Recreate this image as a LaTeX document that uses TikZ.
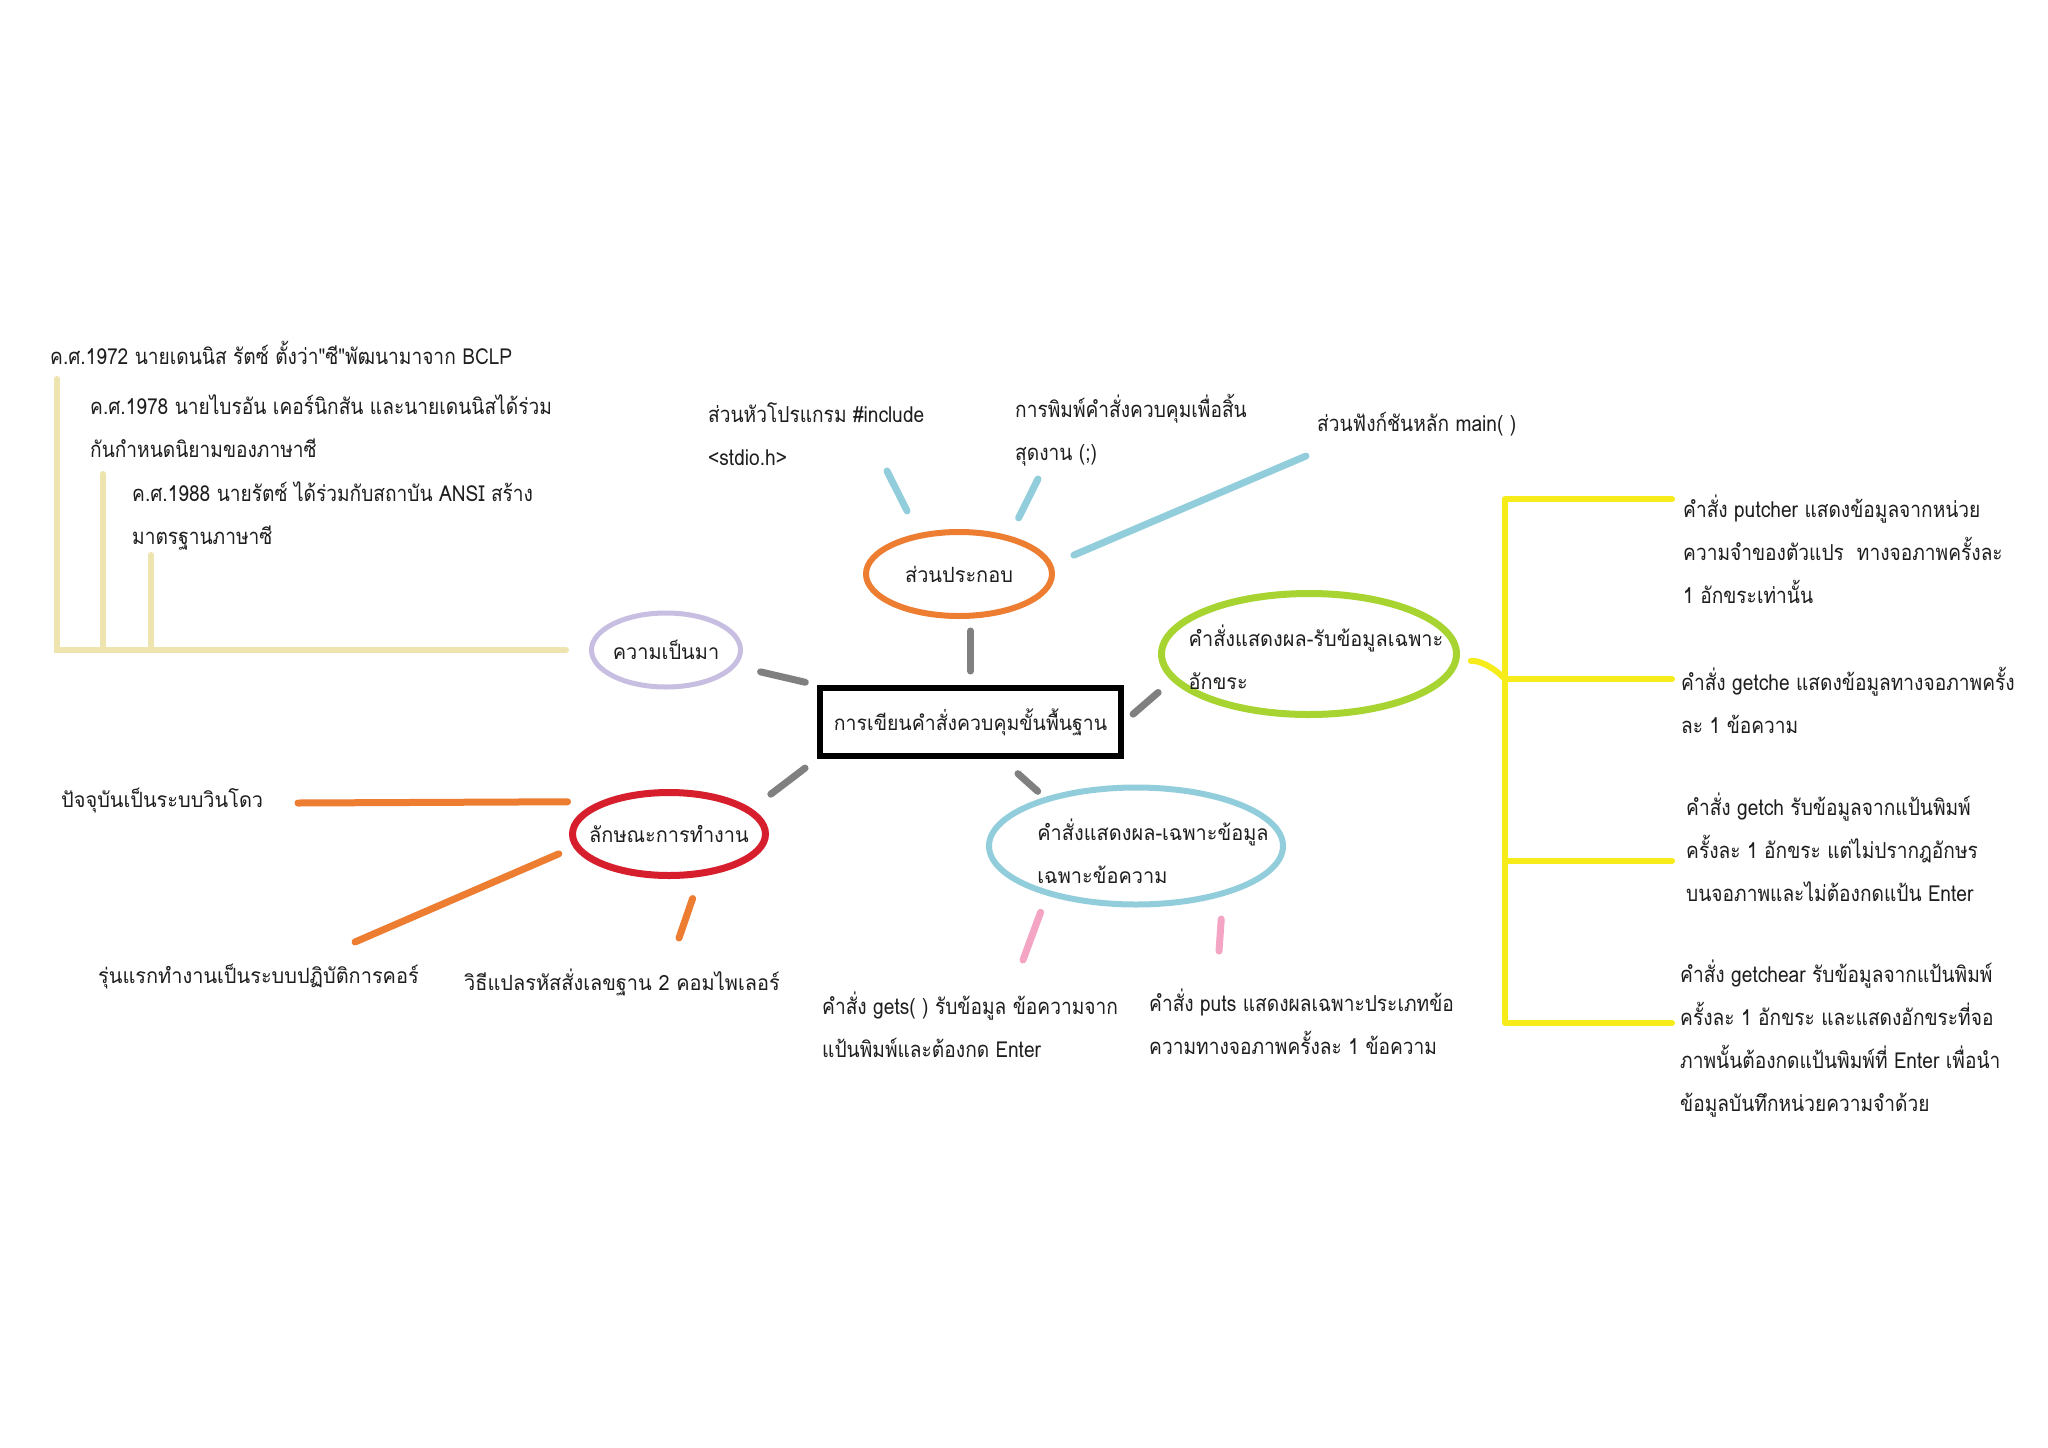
\documentclass[tikz,border=0pt]{standalone}
\usepackage{fontspec}
\newfontfamily\thsans[Script=Thai,FakeStretch=0.95]{Loma}
\newfontfamily\thserif[Script=Thai,FakeStretch=0.87]{Loma}
\usetikzlibrary{shapes.geometric,calc}
\definecolor{cOrange}{RGB}{237,125,49}
\definecolor{cLav}{RGB}{200,190,225}
\definecolor{cGreen}{RGB}{168,212,50}
\definecolor{cRed}{RGB}{215,30,45}
\definecolor{cBlue}{RGB}{146,205,220}
\definecolor{cGray}{RGB}{128,128,128}
\definecolor{cTan}{RGB}{238,228,175}
\definecolor{cYellow}{RGB}{246,236,25}
\definecolor{cPink}{RGB}{243,165,195}
\definecolor{ink}{RGB}{30,30,30}
\tikzset{
  oval/.style={ellipse, inner sep=0pt},
  stxt/.style={font=\thsans\fontsize{21}{43}\selectfont, text=ink, inner sep=0pt, align=left},
  ltxt/.style={font=\thserif\fontsize{22}{43}\selectfont, text=ink, inner sep=0pt, align=left, anchor=west},
  gry/.style={draw=cGray, line width=7pt, line cap=round},
  lbl/.style={draw=cBlue, line width=7pt, line cap=round},
  org/.style={draw=cOrange, line width=7pt, line cap=round},
  pnk/.style={draw=cPink, line width=7pt, line cap=round},
  tanl/.style={draw=cTan, line width=6pt, line cap=round},
  yel/.style={draw=cYellow, line width=6pt, line cap=round, line join=round},
}
\begin{document}
\begin{tikzpicture}[x=1pt,y=-1pt]
\path[fill=white] (0,0) rectangle (2048,1448);
\useasboundingbox (0,0) rectangle (2048,1448);

% centre
\node[draw=black, line width=6pt, minimum width=301pt, minimum height=68pt, inner sep=0pt,
      font=\thsans\fontsize{20.5}{26}\selectfont, text=ink] (box) at (970.5,722) {การเขียนคำสั่งควบคุมขั้นพื้นฐาน};

% ellipses
\node[oval, draw=cOrange, line width=6pt, minimum width=186pt, minimum height=84pt] (ep) at (959,574) {};
\node[stxt] (ept) at (ep) {ส่วนประกอบ};
\node[oval, draw=cLav, line width=5pt, minimum width=149pt, minimum height=74pt] (lav) at (666,650) {};
\node[stxt] (lavt) at (lav) {ความเป็นมา};
\node[oval, draw=cGreen, line width=7pt, minimum width=295pt, minimum height=121pt] (gr) at (1309,654) {};
\node[stxt] (grt) at (1316,657) {คำสั่งแสดงผล-รับข้อมูลเฉพาะ\\อักขระ};
\node[oval, draw=cRed, line width=7pt, minimum width=193pt, minimum height=83pt] (rd) at (669,834) {};
\node[stxt] (rdt) at (rd) {ลักษณะการทำงาน};
\node[oval, draw=cBlue, line width=6pt, minimum width=294pt, minimum height=117pt] (bl) at (1136,846) {};
\node[stxt] (blt) at (1153,851) {คำสั่งแสดงผล-เฉพาะข้อมูล\\เฉพาะข้อความ};

% grey connectors
\draw[gry, shorten <=14pt, shorten >=12pt] (box.north) -- (ep.south -| box.north);
\draw[gry, shorten <=12pt, shorten >=25pt] (box.north west) -- (lav.-13);
\draw[gry, shorten <=12pt, shorten >=18pt] (box.east) -- (gr.191);
\draw[gry, shorten <=15pt, shorten >=24pt] (box.south west) -- (rd.17);
\draw[gry, shorten <=22pt, shorten >=9pt] (box.-50) -- (bl.152);

% parts (top)
\coordinate (c1) at (887,471);
\coordinate (c2) at (1038,479);
\coordinate (c3) at (1306,456);
\draw[lbl, shorten <=25pt] (ep.135) -- (c1);
\draw[lbl, shorten <=20pt] (ep.37) -- (c2);
\draw[lbl, shorten <=23pt] (ep.6) -- (c3);
\node[ltxt] (t1) at (708,434) {ส่วนหัวโปรแกรม \#include\\<stdio.h>};
\node[ltxt] (t2) at (1015,430) {การพิมพ์คำสั่งควบคุมเพื่อสิ้น\\สุดงาน (;)};
\node[ltxt] (t3) at (1317,424) {ส่วนฟังก์ชันหลัก main( )};

% history
\coordinate (h1) at (57,379);
\coordinate (h2) at (103,474);
\coordinate (h3) at (151,555);
\draw[tanl, shorten >=23pt] (h1) |- (lav.west);
\draw[tanl] (h2) -- (h2 |- lav.west);
\draw[tanl] (h3) -- (h3 |- lav.west);
\node[ltxt] (l1) at (50,353) {ค.ศ.1972 นายเดนนิส รัตซ์ ตั้งว่า"ซี"พัฒนามาจาก BCLP};
\node[ltxt] (l2) at (90,426) {ค.ศ.1978 นายไบรอัน เคอร์นิกสัน และนายเดนนิสได้ร่วม\\กันกำหนดนิยามของภาษาซี};
\node[ltxt] (l3) at (132,516) {ค.ศ.1988 นายรัตซ์ ได้ร่วมกับสถาบัน ANSI สร้าง\\มาตรฐานภาษาซี};

% working
\coordinate (o1) at (298,803);
\coordinate (o2) at (355,942);
\coordinate (o3) at (679,938);
\draw[org, shorten <=32pt] (rd.155) -- (o1);
\draw[org, shorten <=16pt] (rd.188) -- (o2);
\draw[org, shorten <=23pt] (rd.-54) -- (o3);
\node[stxt, anchor=west] (w1) at (61,801) {ปัจจุบันเป็นระบบวินโดว};
\node[stxt, anchor=west] (w2) at (98,977) {รุ่นแรกทำงานเป็นระบบปฏิบัติการคอร์};
\node[stxt, anchor=west] (w3) at (464,982) {วิธีแปลรหัสสั่งเลขฐาน 2 คอมไพเลอร์};

% string commands
\coordinate (p1) at (1023,960);
\coordinate (p2) at (1219,951);
\draw[pnk, shorten <=18pt] (bl.-151) -- (p1);
\draw[pnk, shorten <=23pt] (bl.-30) -- (p2);
\node[ltxt] (s1) at (822,1025) {คำสั่ง gets( ) รับข้อมูล ข้อความจาก\\แป้นพิมพ์และต้องกด Enter};
\node[ltxt] (s2) at (1149,1022) {คำสั่ง puts แสดงผลเฉพาะประเภทข้อ\\ความทางจอภาพครั้งละ 1 ข้อความ};

% character commands
\coordinate (y1) at (1672,499);
\coordinate (y2) at (1672,679);
\coordinate (y3) at (1672,861);
\coordinate (y4) at (1672,1023);
\coordinate (yj) at (1505,679);
\draw[yel] (y1) -| (yj |- y4) -- (y4);
\draw[yel] (yj) -- (y2);
\draw[yel] (yj |- y3) -- (y3);
\draw[yel, shorten <=12pt] (gr.-3) to[bend left=25] (yj);
\node[ltxt] (r1) at (1683,549) {คำสั่ง putcher แสดงข้อมูลจากหน่วย\\ความจำของตัวแปร\ \ ทางจอภาพครั้งละ\\1 อักขระเท่านั้น};
\node[ltxt] (r2) at (1681,700) {คำสั่ง getche แสดงข้อมูลทางจอภาพครั้ง\\ละ 1 ข้อความ};
\node[ltxt] (r3) at (1686,847) {คำสั่ง getch รับข้อมูลจากแป้นพิมพ์\\ครั้งละ 1 อักขระ แต่ไม่ปรากฎอักษร\\บนจอภาพและไม่ต้องกดแป้น Enter};
\node[ltxt] (r4) at (1680,1039) {คำสั่ง getchear รับข้อมูลจากแป้นพิมพ์\\ครั้งละ 1 อักขระ และแสดงอักขระที่จอ\\ภาพนั้นต้องกดแป้นพิมพ์ที่ Enter เพื่อนำ\\ข้อมูลบันทึกหน่วยความจำด้วย};
\end{tikzpicture}
\end{document}
